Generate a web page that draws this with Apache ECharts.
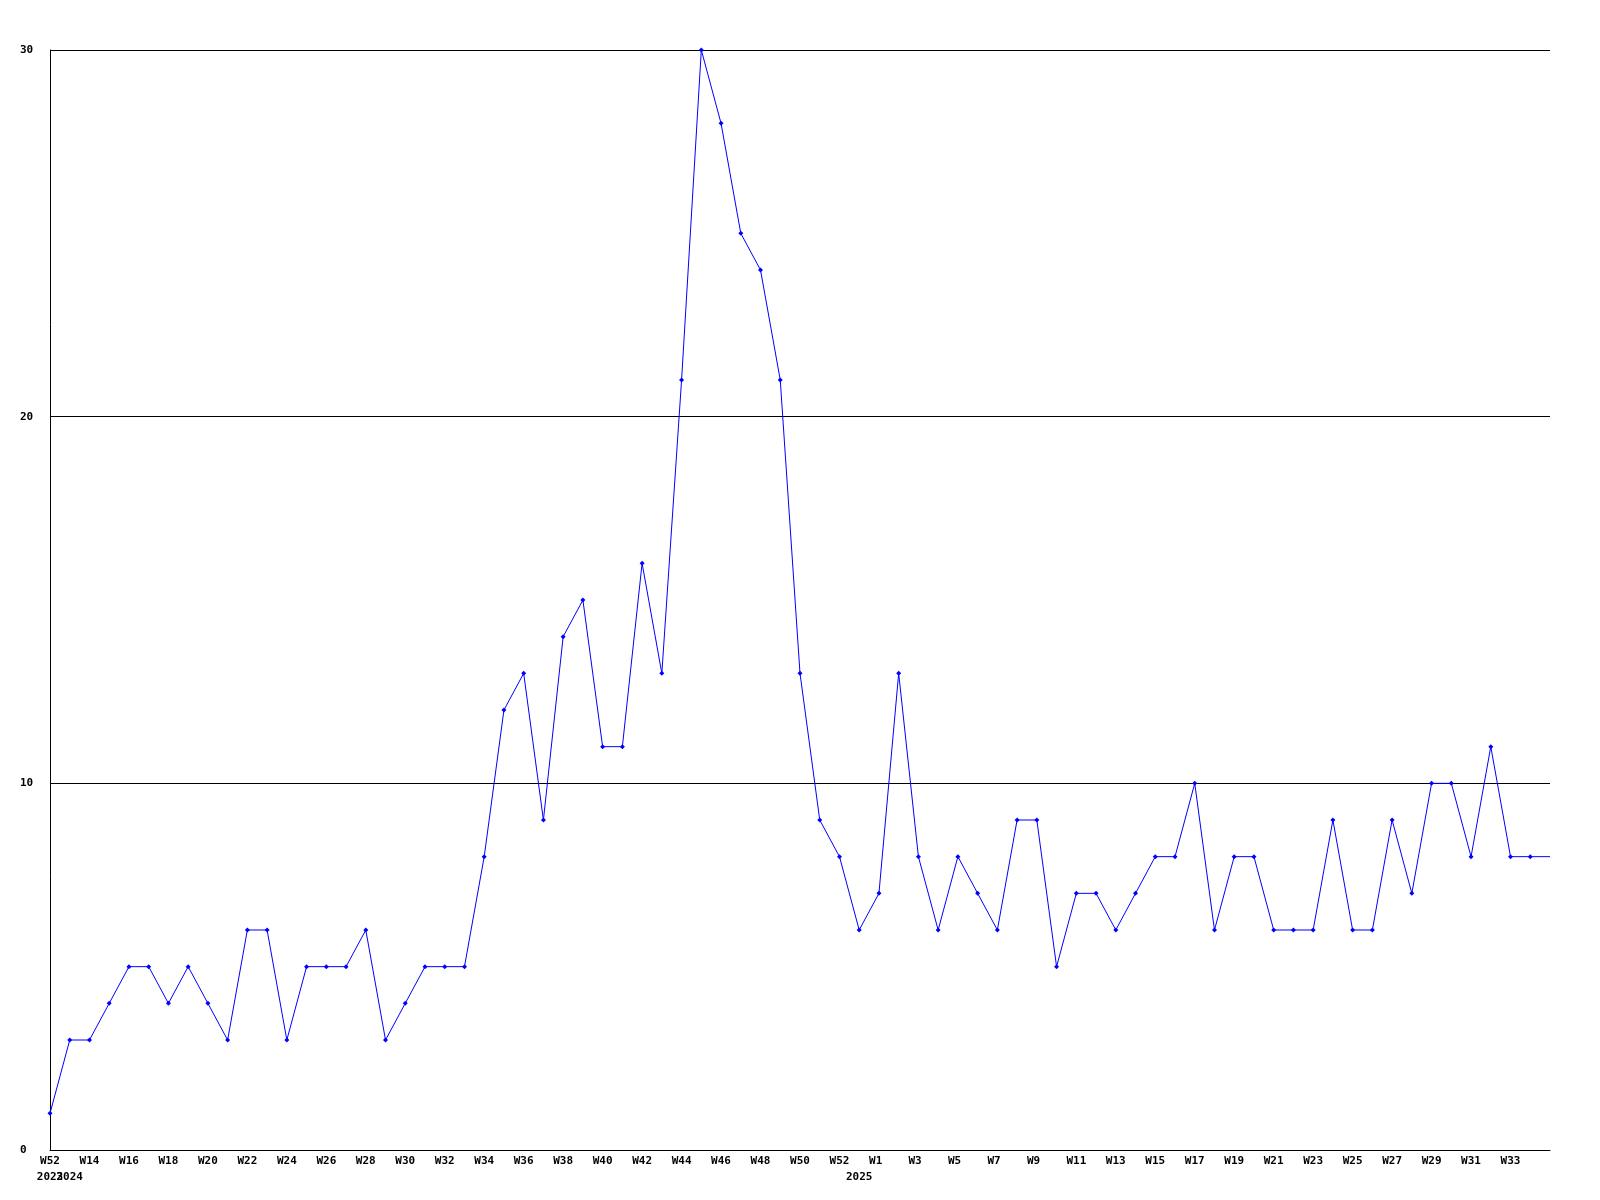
<!DOCTYPE html>
<html>
<head>
<meta charset="utf-8">
<script src="https://cdn.jsdelivr.net/npm/echarts@6/dist/echarts.min.js"></script>
<style>
html,body{margin:0;padding:0;background:#fff;}
#chart{width:1600px;height:1200px;}
</style>
</head>
<body>
<div id="chart"></div>
<script>
// Week labels (one per point)
const weeks = [
  "W52",
  "W13","W14","W15","W16","W17","W18","W19","W20","W21","W22","W23","W24","W25","W26","W27","W28","W29","W30",
  "W31","W32","W33","W34","W35","W36","W37","W38","W39","W40","W41","W42","W43","W44","W45","W46","W47","W48",
  "W49","W50","W51","W52",
  "W0","W1","W2","W3","W4","W5","W6","W7","W8","W9","W10","W11","W12","W13","W14","W15","W16","W17","W18","W19",
  "W20","W21","W22","W23","W24","W25","W26","W27","W28","W29","W30","W31","W32","W33","W34","W35"
];
// Year label shown where a new year starts
const years = ["2023","2024","2025"];
const yearStartIndex = [0, 1, 41];
// Values
const values = [
  1,
  3,3,4,5,5,4,5,4,3,6,6,3,5,5,5,6,3,4,
  5,5,5,8,12,13,9,14,15,11,11,16,13,21,30,28,25,24,
  21,13,9,8,
  6,7,13,8,6,8,7,6,9,9,5,7,7,6,7,8,8,10,6,8,
  8,6,6,6,9,6,6,9,7,10,10,8,11,8,8,8
];
const yTicks = [0, 10, 20, 30];

const font = {fontFamily: "DejaVu Sans Mono", fontWeight: "bold", fontSize: 11, color: "#000"};
const last = values.length - 1;

// One helper axis per year label so adjacent year labels are never culled
function yearAxis(k) {
  const labels = weeks.map((w, i) => i === yearStartIndex[k] ? years[k] : "");
  return {
    type: 'category',
    data: labels,
    position: 'bottom',
    boundaryGap: false,
    axisLine: {show: false},
    axisTick: {show: false},
    splitLine: {show: false},
    axisLabel: Object.assign({}, font, {
      interval: (i, v) => v !== "",
      margin: 22,
      hideOverlap: false
    })
  };
}

const chart = echarts.init(document.getElementById('chart'), null, {renderer: 'canvas'});
chart.setOption({
  animation: false,
  backgroundColor: '#fff',
  grid: {left: 50, right: 50, top: 50, bottom: 50, containLabel: false},
  xAxis: [
    {
      type: 'category',
      data: weeks,
      boundaryGap: false,
      axisLine: {show: true, lineStyle: {color: '#000', width: 1}},
      axisTick: {show: false},
      splitLine: {show: false},
      axisLabel: Object.assign({}, font, {
        interval: (i) => i % 2 === 0 && i !== last,
        margin: 6,
        hideOverlap: false,
        formatter: (v) => v.length < 3 ? v + ' ' : v
      })
    },
    yearAxis(0),
    yearAxis(1),
    yearAxis(2)
  ],
  yAxis: {
    type: 'value',
    min: yTicks[0],
    max: yTicks[yTicks.length - 1],
    interval: 10,
    axisLine: {show: true, lineStyle: {color: '#000', width: 1}},
    axisTick: {show: false},
    splitLine: {show: true, lineStyle: {color: '#000', width: 1}},
    axisLabel: Object.assign({}, font, {align: 'left', margin: 30})
  },
  series: [{
    type: 'line',
    xAxisIndex: 0,
    data: values,
    symbol: (v, p) => p.dataIndex === last ? 'none' : 'diamond',
    symbolSize: 5,
    showAllSymbol: true,
    lineStyle: {color: '#0000ff', width: 1},
    itemStyle: {color: '#0000ff'},
    clip: false
  }]
});
</script>
</body>
</html>
